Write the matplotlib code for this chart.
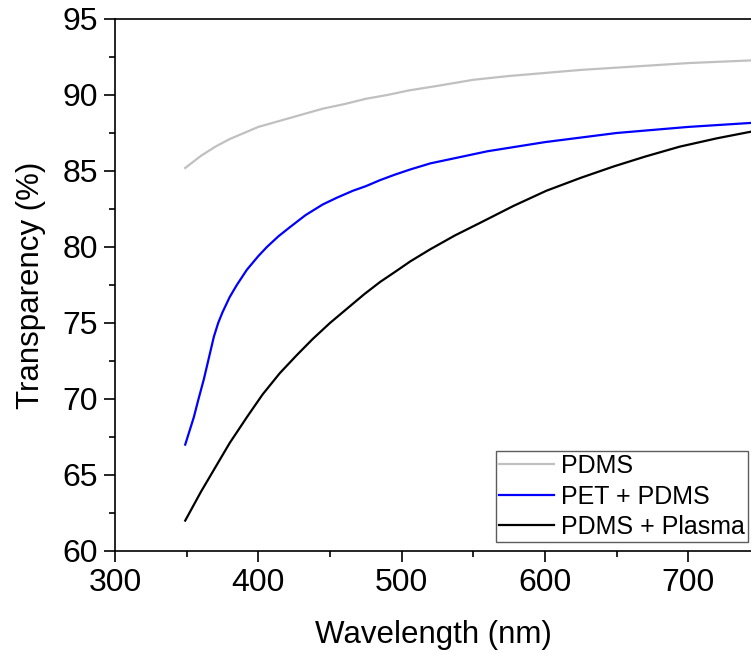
import matplotlib
matplotlib.use("Agg")
import matplotlib.pyplot as plt
from matplotlib.ticker import MultipleLocator

# Data
wl_pdms = [349, 360, 370, 380, 390, 400, 415, 430, 445, 460, 475, 490, 505, 525, 550,
           575, 600, 625, 650, 675, 700, 725, 750]
t_pdms = [85.2, 86.0, 86.6, 87.1, 87.5, 87.9, 88.3, 88.7, 89.1, 89.4, 89.75, 90.0, 90.3,
          90.6, 91.0, 91.25, 91.45, 91.65, 91.8, 91.95, 92.1, 92.2, 92.3]

wl_pet = [349, 352, 355, 358, 362, 365, 369, 372, 375, 380, 385, 392, 400, 406, 414, 422,
          433, 445, 455, 466, 475, 485, 495, 506, 520, 540, 560, 580, 600, 625, 650, 675,
          700, 725, 750]
t_pet = [67.0, 67.9, 68.8, 69.9, 71.3, 72.5, 74.1, 75.0, 75.7, 76.7, 77.5, 78.5, 79.4, 80.0,
         80.7, 81.3, 82.1, 82.8, 83.25, 83.7, 84.0, 84.4, 84.75, 85.1, 85.5, 85.9, 86.3, 86.6,
         86.9, 87.2, 87.5, 87.7, 87.9, 88.05, 88.2]

wl_plasma = [349, 360, 370, 380, 392, 403, 415, 427, 438, 450, 462, 474, 485, 496, 506, 520,
             537, 555, 578, 601, 625, 648, 670, 694, 720, 750]
t_plasma = [62.0, 63.9, 65.5, 67.1, 68.8, 70.3, 71.7, 72.9, 73.95, 75.0, 75.95, 76.9, 77.7,
            78.4, 79.05, 79.85, 80.75, 81.6, 82.7, 83.7, 84.55, 85.3, 85.95, 86.6, 87.15, 87.7]

labels = ["PDMS", "PET + PDMS", "PDMS + Plasma"]
colors = ["#c0c0c0", "#0000ff", "#000000"]

plt.rcParams['font.family'] = ['Liberation Sans', 'DejaVu Sans']

fig = plt.figure(figsize=(7.51, 6.52), dpi=100)
ax = fig.add_axes([115/751, 1-551/652, 1-115/751, (551-19)/652])

for x, y, lab, c in zip([wl_pdms, wl_pet, wl_plasma], [t_pdms, t_pet, t_plasma], labels, colors):
    ax.plot(x, y, color=c, lw=1.6, label=lab)

ax.set_xlim(300, 300 + (751-115)/1.433)
ax.set_ylim(60, 95)
ax.xaxis.set_major_locator(MultipleLocator(100))
ax.xaxis.set_minor_locator(MultipleLocator(50))
ax.yaxis.set_major_locator(MultipleLocator(5))
ax.yaxis.set_minor_locator(MultipleLocator(2.5))

ax.spines['right'].set_visible(False)
for s in ['left', 'bottom', 'top']:
    ax.spines[s].set_linewidth(1.2)

ax.tick_params(which='major', direction='out', length=8, width=1.2, labelsize=23, pad=4)
ax.tick_params(which='minor', direction='out', length=4.5, width=1.2)
ax.tick_params(top=False, right=False, which='both')

ax.set_xlabel("Wavelength (nm)", fontsize=22.5, labelpad=16)
ax.set_ylabel("Transparency (%)", fontsize=22.5, labelpad=12)

leg = ax.legend(loc='lower right', bbox_to_anchor=((748-115)/636, (551-542)/532),
                borderaxespad=0, fontsize=18, frameon=True, fancybox=False,
                handlelength=2.2, handletextpad=0.28, labelspacing=0.26,
                borderpad=0.12, edgecolor='#333333')
leg.get_frame().set_linewidth(1.0)

fig.savefig("out.png", dpi=100)
